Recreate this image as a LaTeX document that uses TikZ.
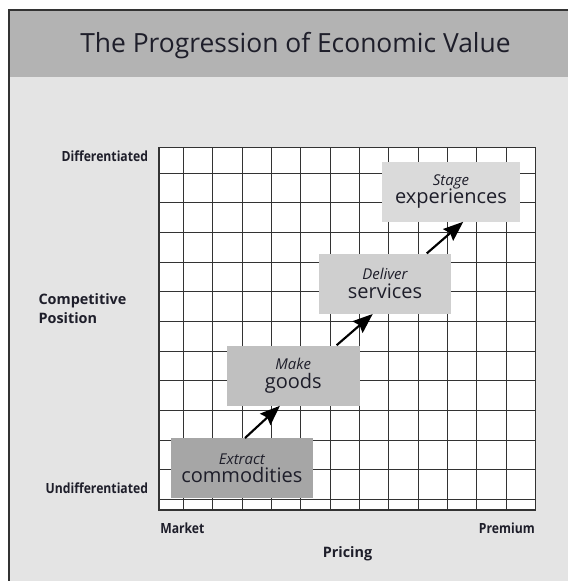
\documentclass[tikz,border=0pt]{standalone}
\usepackage{fontspec}
\setmainfont{Open Sans}
\usetikzlibrary{arrows.meta,positioning}

\definecolor{headgray}{HTML}{B3B3B3}
\definecolor{bodygray}{HTML}{E4E4E4}
\definecolor{gridcol}{HTML}{333333}
\definecolor{inkcol}{HTML}{1E1E2A}
\definecolor{commodcol}{HTML}{A6A6A6}
\definecolor{goodscol}{HTML}{C0C0C0}
\definecolor{servcol}{HTML}{CFCFCF}
\definecolor{expcol}{HTML}{DADADA}

\newcommand{\narrowlabel}[1]{\scalebox{0.87}[1]{#1}}
\newcommand{\stagetext}[2]{{\fontsize{11.2}{14}\selectfont\itshape #1}\\{#2}}

\tikzset{
  gridline/.style={draw=gridcol, line width=0.75pt},
  axisline/.style={draw=gridcol, line width=1.5pt},
  stagebox/.style={fill=#1, inner sep=0pt, minimum height=45pt, align=center, text=inkcol, font=\fontsize{15}{14}\selectfont},
  stagearrow/.style={draw=black, line width=1.6pt, -{Stealth[length=15pt, width=11.5pt, inset=2pt]}},
  axislabel/.style={text=inkcol, font=\fontsize{10.5}{12}\selectfont\bfseries, inner sep=0pt}
}

\begin{document}
\begin{tikzpicture}[x=0.75pt,y=0.75pt,yscale=-1,xscale=1]
    \useasboundingbox (0,0) rectangle (568,581);
    
    %Shape: Rectangle [background]
    \fill[white] (0,0) rectangle (568,581);
    \fill[bodygray] (9,10) rectangle (568,581);
    \fill[headgray] (9,10) rectangle (568,77.5);
    \draw[line width=1.2pt, draw=gridcol] (568,10) -- (9,10) -- (9,581);
    
    %Text Node [title]
    \node[text=inkcol, font=\fontsize{19.8}{24}\selectfont, inner sep=0pt] (title) at (295.5,46) {The Progression of Economic Value};
    
    %Shape: Grid
    \fill[white] (159,147.3) rectangle (535.7,510);
    \foreach \i in {0,...,11}
        \draw[gridline] (183.37+29.35*\i,147.3) -- (183.37+29.35*\i,510);
    \foreach \j in {0,...,11}
        \draw[gridline] (159,173.3+29.64*\j) -- (535.7,173.3+29.64*\j);
    \draw[gridline] (159,147.3) -- (535.7,147.3) -- (535.7,510);
    \draw[axisline] (159,147.3) -- (159,510) -- (535.7,510);
    
    %Text Node [axis labels]
    \node[axislabel, anchor=east] (diff) at (148.3,156.7) {\narrowlabel{Differentiated}};
    \node[axislabel, anchor=east] (undiff) at (148.3,488.3) {\narrowlabel{Undifferentiated}};
    \node[axislabel, anchor=west, align=left, font=\fontsize{10.8}{14}\selectfont\bfseries] (position) at (38.3,308.8) {Competitive\\Position};
    \node[axislabel, anchor=west] (market) at (160,528.3) {\narrowlabel{Market}};
    \node[axislabel, anchor=east] (premium) at (535,528.3) {\narrowlabel{Premium}};
    \node[axislabel, font=\fontsize{10.8}{12}\selectfont\bfseries] (pricing) at (347.5,553.3) {Pricing};
    
    %Shape: Rectangle [stages]
    \node[stagebox=commodcol, minimum width=106.3pt] (commodities) at (241.8,468.3) {\stagetext{Extract}{commodities}};
    \node[stagebox=goodscol, minimum width=100pt] (goods) at (293.3,375.5) {\stagetext{Make}{goods}};
    \node[stagebox=servcol, minimum width=99pt] (services) at (385,283.7) {\stagetext{Deliver}{services}};
    \node[stagebox=expcol, minimum width=103.5pt] (experiences) at (451,191.5) {\stagetext{Stage}{experiences}};
    
    %Straight Lines [arrows]
    \draw[stagearrow] ([xshift=2.4pt]commodities.north) -- ([xshift=-10pt]goods.south);
    \draw[stagearrow] ([xshift=32.5pt]goods.north) -- ([xshift=-9.2pt]services.south);
    \draw[stagearrow] ([xshift=31.3pt]services.north) -- ([xshift=9.2pt]experiences.south);
    
\end{tikzpicture}
\end{document}
